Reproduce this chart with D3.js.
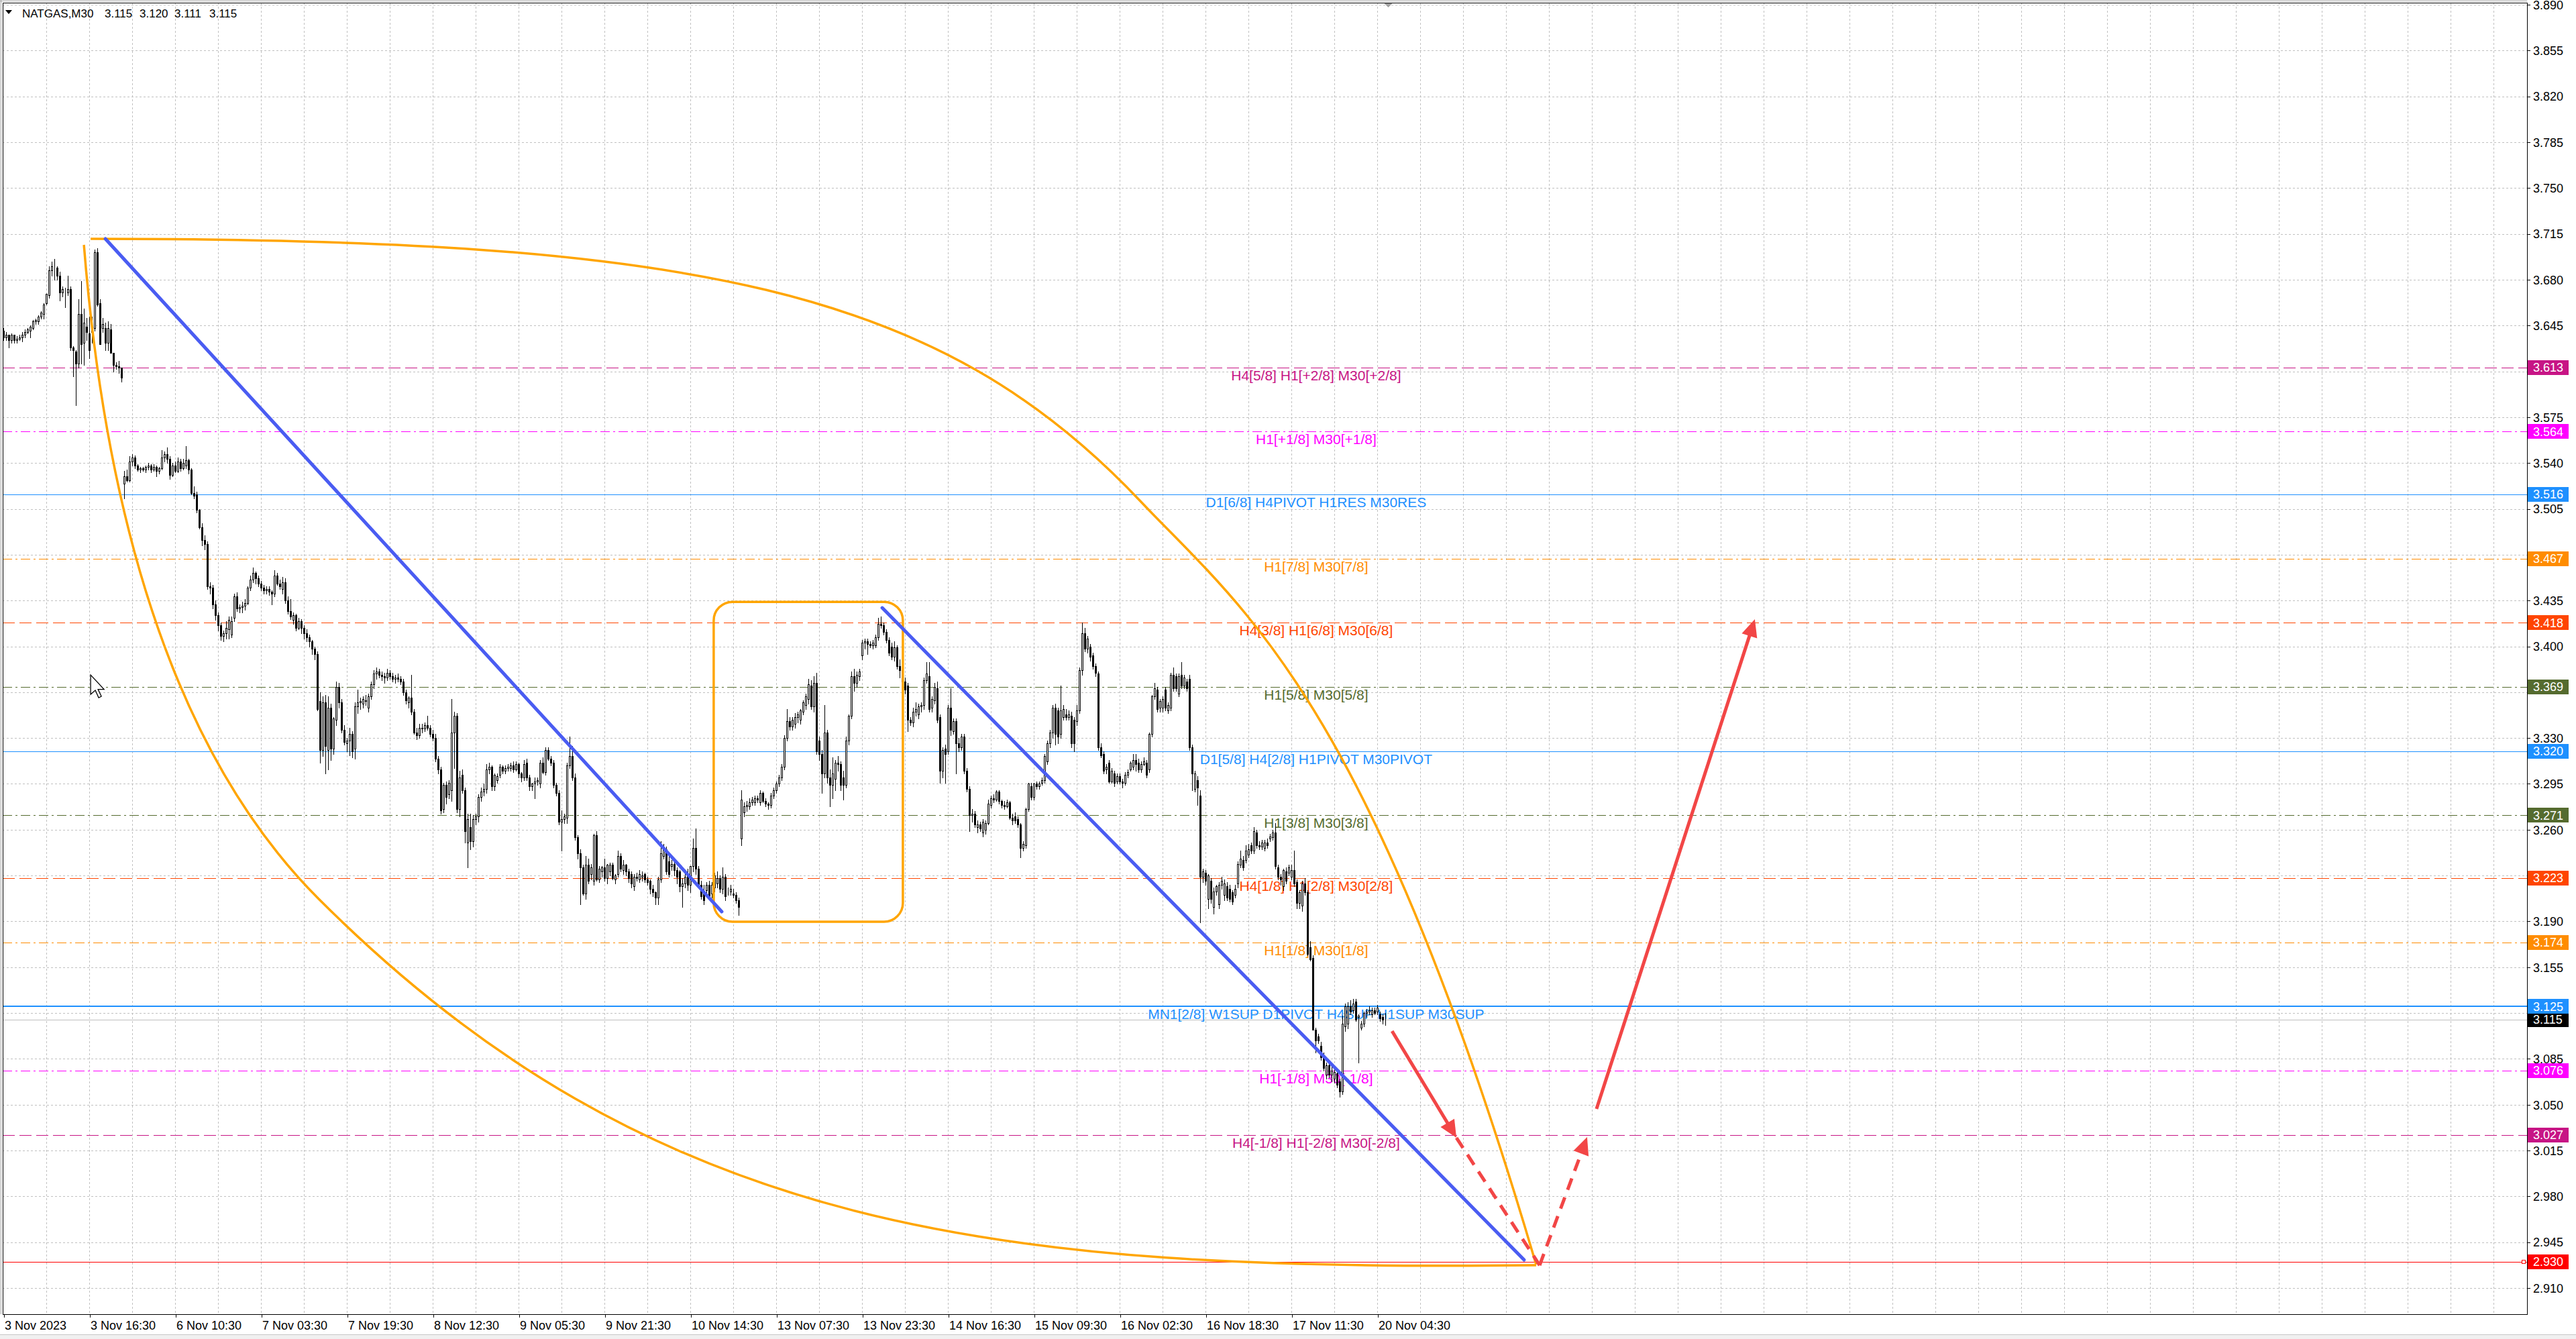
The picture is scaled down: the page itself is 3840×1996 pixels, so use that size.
<!DOCTYPE html>
<html><head><meta charset="utf-8">
<script src="https://cdn.jsdelivr.net/npm/d3@7"></script>
<style>
html,body{margin:0;padding:0;background:#fff;overflow:hidden;}
svg{display:block;}
text{font-family:"Liberation Sans",Arial,sans-serif;}
</style></head><body>
<script>
// ---------------- DATA ----------------
const symbolTitle = "NATGAS,M30";
const titleValues = ["3.115","3.120","3.111","3.115"];

const opens = [
3.641,3.636,3.638,3.634,3.638,3.634,3.635,3.636,3.638,3.640,
3.641,3.643,3.648,3.648,3.652,3.654,3.662,3.668,3.687,3.689,
3.689,3.683,3.670,3.672,3.670,3.673,3.628,3.625,3.616,3.654,
3.632,3.644,3.639,3.640,3.643,3.701,3.662,3.643,3.643,3.632,
3.642,3.624,3.615,3.614,3.613,3.524,3.530,3.527,3.541,3.544,
3.538,3.535,3.536,3.535,3.537,3.538,3.535,3.537,3.534,3.536,
3.544,3.547,3.543,3.531,3.538,3.534,3.541,3.536,3.538,3.542,
3.535,3.517,3.516,3.504,3.491,3.481,3.478,3.446,3.445,3.432,
3.424,3.416,3.408,3.410,3.413,3.409,3.422,3.438,3.429,3.430,
3.431,3.433,3.445,3.451,3.456,3.452,3.448,3.445,3.443,3.444,
3.442,3.440,3.454,3.448,3.444,3.449,3.435,3.427,3.420,3.424,
3.414,3.419,3.414,3.410,3.407,3.404,3.398,3.394,3.358,3.321,
3.357,3.321,3.353,3.322,3.344,3.369,3.357,3.336,3.326,3.328,
3.333,3.322,3.354,3.357,3.356,3.358,3.353,3.362,3.371,3.379,
3.381,3.378,3.377,3.376,3.380,3.377,3.375,3.376,3.375,3.373,
3.365,3.357,3.361,3.350,3.334,3.332,3.338,3.337,3.340,3.338,
3.333,3.330,3.314,3.306,3.276,3.294,3.287,3.290,3.334,3.347,
3.276,3.302,3.290,3.250,3.262,3.251,3.268,3.270,3.285,3.289,
3.291,3.306,3.308,3.293,3.298,3.302,3.308,3.305,3.307,3.307,
3.309,3.306,3.310,3.303,3.300,3.311,3.300,3.293,3.295,3.297,
3.295,3.311,3.304,3.321,3.314,3.311,3.294,3.288,3.266,3.268,
3.269,3.309,3.316,3.300,3.254,3.242,3.231,3.211,3.233,3.226,
3.221,3.256,3.222,3.228,3.231,3.223,3.228,3.233,3.222,3.226,
3.240,3.229,3.233,3.228,3.226,3.217,3.224,3.222,3.224,3.226,
3.222,3.221,3.215,3.212,3.208,3.222,3.240,3.245,3.236,3.232,
3.234,3.229,3.228,3.217,3.219,3.225,3.218,3.232,3.246,3.230,
3.218,3.212,3.214,3.218,3.211,3.216,3.219,3.223,3.215,3.224,
3.213,3.213,3.211,3.210,3.206,3.253,3.273,3.278,3.278,3.281,
3.281,3.284,3.281,3.288,3.282,3.280,3.279,3.286,3.290,3.295,
3.300,3.308,3.330,3.343,3.339,3.341,3.346,3.344,3.350,3.355,
3.360,3.370,3.354,3.372,3.328,3.318,3.303,3.334,3.300,3.294,
3.299,3.311,3.310,3.300,3.294,3.328,3.347,3.377,3.372,3.377,
3.393,3.403,3.404,3.402,3.401,3.401,3.407,3.417,3.416,3.411,
3.405,3.400,3.392,3.399,3.385,3.382,3.373,3.370,3.344,3.342,
3.350,3.348,3.354,3.355,3.374,3.377,3.353,3.359,3.368,3.346,
3.305,3.322,3.320,3.353,3.335,3.343,3.326,3.323,3.331,3.305,
3.291,3.271,3.272,3.262,3.264,3.258,3.260,3.265,3.279,3.284,
3.283,3.289,3.282,3.279,3.278,3.281,3.269,3.270,3.268,3.264,
3.246,3.248,3.276,3.293,3.285,3.295,3.293,3.296,3.298,3.312,
3.326,3.334,3.353,3.351,3.333,3.346,3.348,3.346,3.347,3.344,
3.343,3.351,3.382,3.410,3.398,3.400,3.393,3.385,3.379,3.323,
3.318,3.306,3.311,3.297,3.303,3.297,3.301,3.297,3.296,3.302,
3.306,3.308,3.313,3.311,3.306,3.310,3.311,3.306,3.333,3.362,
3.367,3.353,3.353,3.367,3.351,3.353,3.378,3.377,3.364,3.378,
3.370,3.373,3.375,3.323,3.291,3.298,3.286,3.224,3.227,3.207,
3.221,3.201,3.213,3.203,3.218,3.210,3.217,3.215,3.212,3.210,
3.219,3.233,3.237,3.237,3.241,3.248,3.244,3.258,3.248,3.247,
3.246,3.250,3.253,3.254,3.258,3.231,3.224,3.217,3.228,3.227,
3.224,3.229,3.220,3.204,3.202,3.219,3.212,3.170,3.162,3.107,
3.102,3.095,3.088,3.073,3.080,3.073,3.070,3.074,3.068,3.060,
3.110,3.112,3.125,3.122,3.129,3.117,3.109,3.112,3.120,3.121,
3.119,3.122,3.121,3.119,3.117,3.115];

const highs = [
3.643,3.640,3.638,3.639,3.638,3.637,3.638,3.640,3.642,3.643,
3.645,3.649,3.650,3.653,3.656,3.662,3.669,3.690,3.694,3.696,
3.690,3.686,3.675,3.674,3.683,3.675,3.629,3.626,3.665,3.679,
3.658,3.651,3.652,3.652,3.703,3.704,3.665,3.651,3.647,3.648,
3.646,3.624,3.617,3.618,3.613,3.534,3.535,3.545,3.547,3.546,
3.539,3.537,3.537,3.538,3.540,3.539,3.539,3.538,3.537,3.550,
3.549,3.552,3.545,3.540,3.541,3.544,3.543,3.543,3.553,3.543,
3.536,3.522,3.518,3.505,3.494,3.485,3.480,3.449,3.447,3.435,
3.426,3.418,3.412,3.419,3.423,3.423,3.440,3.441,3.432,3.434,
3.436,3.446,3.454,3.460,3.457,3.454,3.450,3.447,3.446,3.446,
3.443,3.458,3.456,3.451,3.453,3.452,3.438,3.436,3.426,3.425,
3.422,3.421,3.416,3.413,3.409,3.405,3.400,3.396,3.365,3.362,
3.363,3.362,3.356,3.346,3.373,3.372,3.360,3.340,3.330,3.338,
3.335,3.357,3.367,3.361,3.362,3.363,3.364,3.373,3.382,3.384,
3.383,3.381,3.380,3.383,3.382,3.380,3.378,3.379,3.377,3.375,
3.367,3.362,3.378,3.352,3.338,3.341,3.341,3.342,3.347,3.340,
3.336,3.333,3.316,3.308,3.296,3.297,3.298,3.360,3.350,3.349,
3.305,3.306,3.292,3.272,3.272,3.271,3.272,3.287,3.292,3.295,
3.310,3.311,3.309,3.303,3.303,3.310,3.309,3.309,3.310,3.311,
3.312,3.312,3.311,3.304,3.313,3.314,3.302,3.296,3.300,3.300,
3.313,3.315,3.323,3.323,3.316,3.313,3.296,3.290,3.275,3.272,
3.311,3.331,3.324,3.303,3.256,3.245,3.233,3.240,3.238,3.234,
3.257,3.259,3.232,3.232,3.238,3.234,3.235,3.235,3.226,3.244,
3.242,3.237,3.234,3.230,3.228,3.226,3.227,3.229,3.228,3.227,
3.224,3.222,3.218,3.213,3.224,3.251,3.249,3.247,3.240,3.237,
3.237,3.231,3.229,3.223,3.229,3.230,3.232,3.253,3.261,3.232,
3.221,3.218,3.220,3.221,3.220,3.227,3.228,3.225,3.231,3.226,
3.216,3.218,3.215,3.212,3.208,3.290,3.281,3.282,3.284,3.285,
3.286,3.286,3.290,3.289,3.284,3.281,3.288,3.292,3.297,3.302,
3.310,3.332,3.352,3.346,3.346,3.349,3.350,3.352,3.359,3.364,
3.375,3.374,3.377,3.380,3.331,3.321,3.355,3.336,3.306,3.315,
3.313,3.316,3.312,3.305,3.331,3.348,3.381,3.383,3.381,3.383,
3.405,3.406,3.406,3.404,3.405,3.409,3.422,3.423,3.418,3.413,
3.407,3.403,3.404,3.401,3.390,3.384,3.376,3.372,3.346,3.353,
3.357,3.356,3.357,3.376,3.388,3.388,3.362,3.372,3.373,3.348,
3.323,3.325,3.355,3.368,3.345,3.345,3.330,3.333,3.333,3.307,
3.293,3.276,3.274,3.267,3.266,3.268,3.267,3.283,3.286,3.287,
3.290,3.290,3.283,3.282,3.283,3.282,3.272,3.273,3.270,3.265,
3.251,3.277,3.296,3.296,3.296,3.297,3.297,3.300,3.318,3.328,
3.336,3.355,3.356,3.353,3.370,3.355,3.352,3.351,3.350,3.346,
3.355,3.384,3.418,3.414,3.408,3.402,3.395,3.387,3.381,3.326,
3.320,3.310,3.313,3.307,3.305,3.303,3.303,3.299,3.304,3.306,
3.312,3.318,3.318,3.314,3.312,3.315,3.313,3.334,3.363,3.372,
3.369,3.360,3.362,3.369,3.357,3.380,3.384,3.379,3.379,3.388,
3.378,3.375,3.378,3.325,3.305,3.301,3.290,3.230,3.229,3.226,
3.223,3.216,3.218,3.220,3.224,3.222,3.220,3.218,3.214,3.218,
3.236,3.244,3.240,3.248,3.249,3.250,3.262,3.260,3.251,3.252,
3.252,3.253,3.257,3.260,3.265,3.233,3.226,3.230,3.231,3.233,
3.233,3.244,3.222,3.214,3.221,3.223,3.214,3.175,3.164,3.109,
3.104,3.098,3.090,3.082,3.083,3.079,3.077,3.076,3.070,3.118,
3.127,3.128,3.130,3.131,3.131,3.119,3.114,3.121,3.123,3.125,
3.124,3.124,3.126,3.121,3.119,3.120];

const lows = [
3.634,3.634,3.628,3.632,3.632,3.632,3.634,3.633,3.636,3.639,
3.636,3.642,3.646,3.646,3.650,3.650,3.661,3.666,3.683,3.680,
3.680,3.664,3.667,3.659,3.668,3.626,3.606,3.584,3.613,3.616,
3.615,3.634,3.620,3.632,3.641,3.660,3.631,3.640,3.626,3.626,
3.624,3.610,3.612,3.609,3.602,3.513,3.526,3.526,3.538,3.536,
3.534,3.533,3.534,3.533,3.535,3.533,3.534,3.530,3.532,3.535,
3.541,3.540,3.528,3.530,3.533,3.533,3.534,3.535,3.536,3.532,
3.516,3.513,3.502,3.490,3.477,3.474,3.444,3.440,3.429,3.420,
3.412,3.405,3.404,3.406,3.406,3.407,3.419,3.427,3.426,3.426,
3.428,3.432,3.443,3.449,3.448,3.446,3.443,3.440,3.440,3.439,
3.432,3.438,3.447,3.444,3.440,3.433,3.425,3.421,3.417,3.412,
3.413,3.410,3.406,3.404,3.400,3.394,3.390,3.351,3.311,3.316,
3.303,3.306,3.313,3.318,3.340,3.353,3.334,3.325,3.320,3.317,
3.315,3.314,3.349,3.352,3.353,3.355,3.350,3.360,3.368,3.375,
3.376,3.374,3.372,3.374,3.375,3.373,3.372,3.373,3.371,3.363,
3.356,3.353,3.348,3.333,3.329,3.330,3.334,3.335,3.336,3.331,
3.328,3.312,3.303,3.272,3.273,3.280,3.284,3.282,3.307,3.273,
3.270,3.288,3.250,3.231,3.245,3.247,3.264,3.266,3.282,3.286,
3.288,3.303,3.290,3.290,3.296,3.300,3.303,3.303,3.305,3.305,
3.304,3.305,3.300,3.297,3.298,3.298,3.290,3.290,3.284,3.294,
3.292,3.303,3.302,3.313,3.309,3.292,3.286,3.264,3.244,3.265,
3.265,3.307,3.298,3.252,3.238,3.203,3.210,3.207,3.219,3.222,
3.218,3.221,3.220,3.224,3.221,3.219,3.225,3.222,3.219,3.224,
3.228,3.226,3.225,3.220,3.216,3.214,3.221,3.220,3.221,3.220,
3.218,3.211,3.209,3.203,3.203,3.220,3.238,3.226,3.224,3.229,
3.225,3.219,3.213,3.201,3.216,3.214,3.212,3.228,3.226,3.217,
3.207,3.203,3.210,3.207,3.208,3.213,3.216,3.212,3.211,3.206,
3.210,3.210,3.208,3.204,3.195,3.248,3.270,3.274,3.276,3.279,
3.279,3.281,3.279,3.281,3.278,3.276,3.277,3.284,3.288,3.293,
3.298,3.306,3.328,3.336,3.336,3.338,3.342,3.341,3.348,3.352,
3.356,3.352,3.350,3.318,3.313,3.288,3.300,3.296,3.278,3.284,
3.290,3.305,3.290,3.283,3.292,3.325,3.345,3.366,3.369,3.374,
3.390,3.398,3.394,3.399,3.398,3.399,3.405,3.414,3.409,3.403,
3.393,3.390,3.389,3.383,3.376,3.370,3.364,3.335,3.340,3.339,
3.347,3.345,3.350,3.352,3.372,3.350,3.350,3.356,3.342,3.296,
3.300,3.296,3.318,3.332,3.333,3.303,3.320,3.321,3.303,3.289,
3.259,3.266,3.262,3.258,3.259,3.255,3.257,3.264,3.277,3.281,
3.282,3.280,3.277,3.276,3.277,3.268,3.264,3.265,3.262,3.239,
3.244,3.246,3.274,3.283,3.283,3.291,3.291,3.294,3.296,3.310,
3.323,3.330,3.325,3.326,3.330,3.344,3.344,3.344,3.323,3.320,
3.340,3.349,3.378,3.396,3.395,3.389,3.383,3.377,3.321,3.315,
3.303,3.303,3.296,3.296,3.293,3.295,3.295,3.292,3.294,3.300,
3.305,3.306,3.305,3.304,3.304,3.309,3.300,3.304,3.331,3.360,
3.350,3.350,3.350,3.351,3.349,3.351,3.366,3.366,3.362,3.368,
3.368,3.366,3.321,3.290,3.289,3.279,3.189,3.220,3.218,3.200,
3.204,3.196,3.210,3.200,3.215,3.206,3.206,3.205,3.203,3.208,
3.216,3.231,3.229,3.235,3.239,3.242,3.242,3.246,3.245,3.245,
3.244,3.246,3.251,3.252,3.230,3.222,3.218,3.214,3.219,3.225,
3.222,3.217,3.200,3.200,3.198,3.210,3.164,3.160,3.107,3.090,
3.097,3.084,3.076,3.070,3.071,3.068,3.067,3.063,3.056,3.058,
3.106,3.108,3.119,3.120,3.114,3.082,3.107,3.110,3.117,3.119,
3.117,3.119,3.119,3.114,3.112,3.111];

const closes = [
3.636,3.638,3.634,3.638,3.634,3.635,3.636,3.638,3.640,3.642,
3.644,3.648,3.649,3.652,3.655,3.661,3.669,3.687,3.690,3.689,
3.683,3.670,3.673,3.672,3.673,3.628,3.626,3.616,3.654,3.631,
3.647,3.640,3.626,3.644,3.701,3.661,3.631,3.646,3.632,3.643,
3.624,3.615,3.614,3.613,3.605,3.530,3.527,3.541,3.544,3.538,
3.535,3.536,3.535,3.537,3.538,3.535,3.537,3.534,3.536,3.544,
3.547,3.543,3.531,3.538,3.534,3.541,3.536,3.540,3.542,3.535,
3.517,3.515,3.504,3.491,3.481,3.478,3.446,3.445,3.432,3.424,
3.416,3.408,3.410,3.414,3.420,3.419,3.438,3.429,3.430,3.431,
3.433,3.445,3.451,3.456,3.452,3.448,3.445,3.443,3.444,3.442,
3.440,3.454,3.448,3.446,3.449,3.435,3.427,3.423,3.424,3.414,
3.419,3.414,3.410,3.407,3.404,3.398,3.394,3.352,3.321,3.357,
3.324,3.353,3.322,3.345,3.369,3.357,3.336,3.327,3.328,3.333,
3.320,3.354,3.357,3.358,3.360,3.359,3.362,3.371,3.379,3.381,
3.378,3.377,3.376,3.380,3.377,3.375,3.376,3.375,3.373,3.365,
3.359,3.361,3.350,3.334,3.332,3.338,3.337,3.340,3.338,3.333,
3.330,3.314,3.306,3.275,3.294,3.285,3.296,3.334,3.347,3.276,
3.300,3.290,3.259,3.268,3.251,3.268,3.270,3.285,3.289,3.291,
3.306,3.308,3.293,3.302,3.301,3.308,3.305,3.307,3.308,3.309,
3.306,3.310,3.303,3.300,3.310,3.300,3.293,3.295,3.297,3.298,
3.311,3.304,3.321,3.314,3.311,3.294,3.288,3.266,3.268,3.270,
3.309,3.316,3.300,3.254,3.242,3.231,3.211,3.233,3.221,3.231,
3.256,3.222,3.230,3.231,3.223,3.233,3.233,3.223,3.225,3.240,
3.230,3.233,3.228,3.223,3.219,3.224,3.223,3.226,3.225,3.222,
3.220,3.215,3.212,3.208,3.222,3.242,3.245,3.228,3.226,3.234,
3.229,3.224,3.217,3.219,3.224,3.218,3.232,3.246,3.230,3.218,
3.209,3.206,3.218,3.209,3.218,3.225,3.223,3.215,3.224,3.209,
3.213,3.215,3.210,3.206,3.201,3.283,3.278,3.279,3.281,3.283,
3.284,3.283,3.288,3.282,3.280,3.279,3.286,3.290,3.295,3.300,
3.308,3.330,3.343,3.339,3.344,3.346,3.348,3.351,3.357,3.362,
3.371,3.354,3.372,3.320,3.318,3.303,3.334,3.300,3.294,3.303,
3.311,3.310,3.294,3.294,3.328,3.347,3.377,3.372,3.378,3.381,
3.403,3.404,3.402,3.401,3.403,3.407,3.417,3.416,3.411,3.405,
3.395,3.392,3.399,3.385,3.382,3.373,3.367,3.344,3.342,3.350,
3.352,3.354,3.355,3.374,3.379,3.352,3.360,3.369,3.344,3.305,
3.321,3.318,3.353,3.336,3.343,3.326,3.323,3.331,3.305,3.291,
3.271,3.272,3.264,3.264,3.261,3.266,3.265,3.280,3.284,3.283,
3.289,3.282,3.279,3.278,3.281,3.269,3.267,3.267,3.264,3.246,
3.249,3.276,3.295,3.285,3.295,3.293,3.295,3.298,3.316,3.326,
3.334,3.353,3.333,3.331,3.351,3.352,3.346,3.348,3.326,3.326,
3.351,3.382,3.410,3.398,3.406,3.392,3.385,3.380,3.323,3.317,
3.305,3.308,3.297,3.305,3.296,3.301,3.297,3.296,3.302,3.304,
3.311,3.313,3.310,3.306,3.310,3.312,3.302,3.333,3.362,3.368,
3.352,3.358,3.360,3.353,3.355,3.378,3.368,3.368,3.377,3.370,
3.376,3.368,3.323,3.303,3.303,3.292,3.224,3.228,3.221,3.225,
3.207,3.213,3.217,3.218,3.221,3.219,3.208,3.207,3.205,3.215,
3.234,3.238,3.231,3.244,3.245,3.244,3.259,3.248,3.247,3.250,
3.250,3.248,3.255,3.258,3.232,3.224,3.222,3.229,3.221,3.231,
3.229,3.219,3.204,3.212,3.219,3.212,3.165,3.161,3.107,3.099,
3.099,3.086,3.078,3.080,3.073,3.076,3.075,3.065,3.060,3.112,
3.125,3.125,3.121,3.127,3.115,3.118,3.112,3.120,3.121,3.122,
3.122,3.120,3.124,3.116,3.115,3.115];

// price axis ticks
const priceTicks = [3.890,3.855,3.820,3.785,3.750,3.715,3.680,3.645,3.610,3.575,3.540,3.505,3.470,3.435,3.400,3.365,3.330,3.295,3.260,3.225,3.190,3.155,3.120,3.085,3.050,3.015,2.980,2.945,2.910];
// time axis: bar index of each label
const timeTickBars = [0,32,64,96,128,160,192,224,256,288,320,352,384,416,448,480,512];
const timeTickLabels = ["3 Nov 2023","3 Nov 16:30","6 Nov 10:30","7 Nov 03:30","7 Nov 19:30","8 Nov 12:30","9 Nov 05:30","9 Nov 21:30","10 Nov 14:30","13 Nov 07:30","13 Nov 23:30","14 Nov 16:30","15 Nov 09:30","16 Nov 02:30","16 Nov 18:30","17 Nov 11:30","20 Nov 04:30"];

// Murrey / pivot levels
const levelPrices = [3.613,3.564,3.516,3.467,3.418,3.369,3.320,3.271,3.223,3.174,3.125,3.076,3.027];
const levelLabels = ["H4[5/8] H1[+2/8] M30[+2/8]","H1[+1/8] M30[+1/8]","D1[6/8] H4PIVOT H1RES M30RES","H1[7/8] M30[7/8]","H4[3/8] H1[6/8] M30[6/8]","H1[5/8] M30[5/8]","D1[5/8] H4[2/8] H1PIVOT M30PIVOT","H1[3/8] M30[3/8]","H4[1/8] H1[2/8] M30[2/8]","H1[1/8] M30[1/8]","MN1[2/8] W1SUP D1PIVOT H4SUP H1SUP M30SUP","H1[-1/8] M30[-1/8]","H4[-1/8] H1[-2/8] M30[-2/8]"];
const levelKinds = ["mvr","mag","blue","orng","ored","olive","blue","olive","ored","orng","blueB","mag","mvr"];
const targetPrice = 2.930;
const lastPrice = 3.115;
const labelAnchorBar = 489.1;

// drawn objects, in (bar index, price)
const trendLine1 = [[37.9,3.7112],[267.6,3.1974]];
const trendLine2 = [[327.4,3.4294],[566.6,2.9315]];
const boxCorners = [[264.6,3.434],[335.1,3.1897]];
// arcs: start point followed by Bezier control triplets (ctrl1, ctrl2, end)
const arcTop = [[32.4,3.7112],[257.4,3.7112],[348.6,3.6738],[423.6,3.5109],[461.1,3.4295],[508.6,3.3634],[571.1,2.9279]];
const arcBottom = [[29.9,3.7066],[40.9,3.4248],[79.9,3.2840],[117.4,3.2071],[242.4,2.9510],[371.1,2.9228],[571.1,2.9274]];
const arrowFrom = [[517.4,3.1062],[541.4,3.0247],[572.4,2.9274],[593.6,3.0468]];
const arrowTo   = [[541.4,3.0247],[572.4,2.9274],[590.1,3.0252],[652.6,3.4207]];
const arrowDashed = [false,true,true,false];
const arrowHead = [true,false,true,true];
const cursorAt = [32.4,3.3782];
const shiftMarkerBar = 516;

// ---------------- STYLES ----------------
const W=3840,H=1996;
const PL=4,PR=3767,PT=4,PB=1959;
const FONT='"Liberation Sans",Arial,sans-serif';
const KIND = {
  mvr:{c:'#C71585',d:'18,7',w:1},
  mag:{c:'#FF00FF',d:'14,5,3,5',w:1},
  blue:{c:'#1E90FF',d:null,w:1},
  blueB:{c:'#1E90FF',d:null,w:2},
  orng:{c:'#FF8C00',d:'14,5,3,5',w:1},
  ored:{c:'#FF4500',d:'18,7',w:1},
  olive:{c:'#556B2F',d:'14,5,3,5',w:1}
};
const ORANGE='#FFA500', TLBLUE='#4A5CF2', ARROWRED='#F24646';

// ---------------- SCALES ----------------
const x = d3.scaleLinear().domain([0,515]).range([5.5,5.5+4*515]);
const y = d3.scaleLinear().domain([2.910,3.890]).range([1920,7]);
const py = p => Math.round(y(p))+0.5;

const svg = d3.select('body').append('svg').attr('width',W).attr('height',H);
svg.append('rect').attr('width',W).attr('height',H).attr('fill','#fff');

const defs = svg.append('defs');
defs.append('clipPath').attr('id','plot').append('rect')
  .attr('x',PL+1).attr('y',PT+1).attr('width',PR-PL-1).attr('height',PB-PT-1);

// ---------------- GRID ----------------
const grid = svg.append('g').attr('shape-rendering','crispEdges');
grid.selectAll('line.h').data(priceTicks).join('line')
  .attr('x1',PL).attr('x2',PR).attr('y1',d=>py(d)).attr('y2',d=>py(d))
  .attr('stroke','#c0c0c0').attr('stroke-dasharray','3,3');
const vBars = d3.range(16, 941, 16);
grid.selectAll('line.v').data(vBars).join('line')
  .attr('x1',d=>x(d)).attr('x2',d=>x(d)).attr('y1',PT).attr('y2',PB)
  .attr('stroke','#c0c0c0').attr('stroke-dasharray','3,3');

const plot = svg.append('g').attr('clip-path','url(#plot)');

// ---------------- LEVEL LINES ----------------
const lv = plot.append('g').attr('shape-rendering','crispEdges');
lv.append('line').attr('x1',PL).attr('x2',PR).attr('y1',py(lastPrice)).attr('y2',py(lastPrice))
  .attr('stroke','#c0c0c0').attr('stroke-width',1);
lv.selectAll('line.lvl').data(levelPrices).join('line')
  .attr('x1',PL).attr('x2',PR)
  .attr('y1',(d,i)=> KIND[levelKinds[i]].w===2 ? Math.round(y(d)) : py(d))
  .attr('y2',(d,i)=> KIND[levelKinds[i]].w===2 ? Math.round(y(d)) : py(d))
  .attr('stroke',(d,i)=>KIND[levelKinds[i]].c)
  .attr('stroke-width',(d,i)=>KIND[levelKinds[i]].w)
  .attr('stroke-dasharray',(d,i)=>KIND[levelKinds[i]].d);
lv.append('line').attr('x1',PL).attr('x2',PR).attr('y1',py(targetPrice)).attr('y2',py(targetPrice))
  .attr('stroke','#FF0000').attr('stroke-width',1);
lv.append('rect').attr('x',PR-7.5).attr('y',py(targetPrice)-3).attr('width',5).attr('height',5)
  .attr('fill','#fff').attr('stroke','#FF0000');

plot.append('g').selectAll('text').data(levelPrices).join('text')
  .attr('x',x(labelAnchorBar)).attr('y',d=>y(d)+19)
  .attr('text-anchor','middle').attr('font-size',21).attr('font-family',FONT)
  .attr('fill',(d,i)=>KIND[levelKinds[i]].c)
  .text((d,i)=>levelLabels[i]);

// ---------------- CANDLES ----------------
const cg = plot.append('g').attr('shape-rendering','crispEdges');
const idx = d3.range(closes.length);
cg.selectAll('line.w').data(idx).join('line')
  .attr('x1',i=>x(i)).attr('x2',i=>x(i))
  .attr('y1',i=>Math.round(y(highs[i]))).attr('y2',i=>Math.round(y(lows[i]))+1)
  .attr('stroke','#000').attr('stroke-width',1);
cg.selectAll('rect.b').data(idx).join('rect')
  .attr('x',i=>x(i)-1).attr('width',2)
  .attr('y',i=>Math.round(y(Math.max(opens[i],closes[i])))+0.5)
  .attr('height',i=>Math.max(0,Math.round(y(Math.min(opens[i],closes[i])))-Math.round(y(Math.max(opens[i],closes[i])))))
  .attr('fill',i=>closes[i]>=opens[i]?'#fff':'#000')
  .attr('stroke','#000').attr('stroke-width',1);

// ---------------- OBJECTS ----------------
const obj = plot.append('g');
const lineGen = d3.line().x(d=>x(d[0])).y(d=>y(d[1]));
function bezierPath(pts){
  const p = d3.path();
  p.moveTo(x(pts[0][0]), y(pts[0][1]));
  for(let k=1;k+2<pts.length;k+=3){
    p.bezierCurveTo(x(pts[k][0]),y(pts[k][1]),x(pts[k+1][0]),y(pts[k+1][1]),x(pts[k+2][0]),y(pts[k+2][1]));
  }
  return p.toString();
}
obj.append('path').attr('d',bezierPath(arcTop)).attr('fill','none').attr('stroke',ORANGE).attr('stroke-width',3.5);
obj.append('path').attr('d',bezierPath(arcBottom)).attr('fill','none').attr('stroke',ORANGE).attr('stroke-width',3.5);
obj.append('rect')
  .attr('x',x(boxCorners[0][0])).attr('y',y(boxCorners[0][1]))
  .attr('width',x(boxCorners[1][0])-x(boxCorners[0][0]))
  .attr('height',y(boxCorners[1][1])-y(boxCorners[0][1]))
  .attr('rx',28).attr('ry',28)
  .attr('fill','none').attr('stroke',ORANGE).attr('stroke-width',3.5);
[trendLine1,trendLine2].forEach(t=>{
  obj.append('path').attr('d',lineGen(t)).attr('stroke',TLBLUE).attr('stroke-width',5)
    .attr('fill','none').attr('stroke-linecap','round');
});
arrowFrom.forEach((a,k)=>{
  const b = arrowTo[k];
  const x1=x(a[0]),y1=y(a[1]),x2=x(b[0]),y2=y(b[1]);
  const dx=x2-x1, dy=y2-y1, L=Math.hypot(dx,dy), ux=dx/L, uy=dy/L;
  const HL = arrowHead[k]?26:0, HW=12;
  const ex = x2-ux*HL*0.8, ey=y2-uy*HL*0.8;
  obj.append('line').attr('x1',x1).attr('y1',y1).attr('x2',ex).attr('y2',ey)
    .attr('stroke',ARROWRED).attr('stroke-width',5)
    .attr('stroke-dasharray',arrowDashed[k]?'18,12':null);
  if(arrowHead[k]){
    const bx=x2-ux*HL, by=y2-uy*HL;
    const pts=[[x2,y2],[bx-uy*HW,by+ux*HW],[bx+uy*HW,by-ux*HW]];
    obj.append('polygon').attr('points',pts.map(p=>p.join(',')).join(' ')).attr('fill',ARROWRED);
  }
});
{
  const cx=x(cursorAt[0]), cy=y(cursorAt[1]);
  const shape=[[0,0],[0,29],[7,23],[12,34],[16,32],[11,21.5],[20,21.5]];
  obj.append('polygon').attr('points',shape.map(p=>(cx+p[0])+','+(cy+p[1])).join(' '))
    .attr('fill','#fff').attr('stroke','#000').attr('stroke-width',1.3);
}

// ---------------- FRAME ----------------
const fr = svg.append('g').attr('shape-rendering','crispEdges');
fr.append('line').attr('x1',1.5).attr('x2',1.5).attr('y1',0).attr('y2',PB).attr('stroke','#a0a0a0');
fr.append('line').attr('x1',0).attr('x2',PR).attr('y1',1.5).attr('y2',1.5).attr('stroke','#a0a0a0');
fr.append('rect').attr('x',PL+0.5).attr('y',PT+0.5).attr('width',PR-PL).attr('height',PB-PT)
  .attr('fill','none').attr('stroke','#000');
{
  const sx = x(shiftMarkerBar);
  svg.append('polygon').attr('points',`${sx-6},${PT+1} ${sx+6},${PT+1} ${sx},${PT+7}`).attr('fill','#a0a0a0');
}
svg.append('rect').attr('x',0).attr('y',1989).attr('width',W).attr('height',7).attr('fill','#f0f0f0');
svg.append('line').attr('x1',0).attr('x2',W).attr('y1',1989.5).attr('y2',1989.5).attr('stroke','#c8c8c8').attr('shape-rendering','crispEdges');

// ---------------- AXES ----------------
const boxedPrices = levelPrices.concat([lastPrice,targetPrice]);
const hiddenTick = t => boxedPrices.some(p=>Math.abs(y(p)-y(t))<10);
const yAxis = d3.axisRight(y).tickValues(priceTicks)
  .tickFormat(t => hiddenTick(t) ? '' : d3.format('.3f')(t)).tickSize(5).tickPadding(4);
const ya = svg.append('g').attr('transform',`translate(${PR},0)`).call(yAxis);
ya.select('.domain').remove();
ya.selectAll('line').attr('stroke','#000').attr('shape-rendering','crispEdges');
ya.selectAll('text').attr('font-size',18).attr('font-family',FONT).attr('fill','#000').attr('dy','0.35em');
ya.selectAll('.tick').filter(t=>hiddenTick(t)).select('text').remove();

const xAxis = d3.axisBottom(x).tickValues(timeTickBars).tickFormat((d,i)=>timeTickLabels[i]).tickSize(5);
const xa = svg.append('g').attr('transform',`translate(0,${PB})`).call(xAxis);
xa.select('.domain').remove();
xa.selectAll('line').attr('stroke','#000').attr('shape-rendering','crispEdges');
xa.selectAll('text').attr('font-size',18).attr('font-family',FONT).attr('fill','#000')
  .attr('text-anchor','start').attr('x',1).attr('y',23).attr('dy',0);

const boxes = svg.append('g');
function priceBox(p, fill){
  const cy = y(p);
  boxes.append('rect').attr('x',PR+1).attr('y',Math.round(cy)-11).attr('width',61).attr('height',22).attr('fill',fill);
  boxes.append('text').attr('x',PR+9).attr('y',cy).attr('dy','0.35em')
    .attr('font-size',18).attr('font-family',FONT).attr('fill','#fff').text(d3.format('.3f')(p));
}
priceBox(lastPrice,'#000');
levelPrices.forEach((p,i)=>priceBox(p, KIND[levelKinds[i]].c));
priceBox(targetPrice,'#FF0000');

// ---------------- TITLE ----------------
svg.append('polygon').attr('points','8,15 18,15 13,21').attr('fill','#000');
svg.append('text').attr('x',33).attr('y',25.5).attr('font-size',17).attr('font-family',FONT).attr('fill','#000').text(symbolTitle);
const tvx=[156,208,260,312];
titleValues.forEach((t,i)=>svg.append('text').attr('x',tvx[i]).attr('y',25.5).attr('font-size',17).attr('font-family',FONT).attr('fill','#000').text(t));
</script>
</body></html>
